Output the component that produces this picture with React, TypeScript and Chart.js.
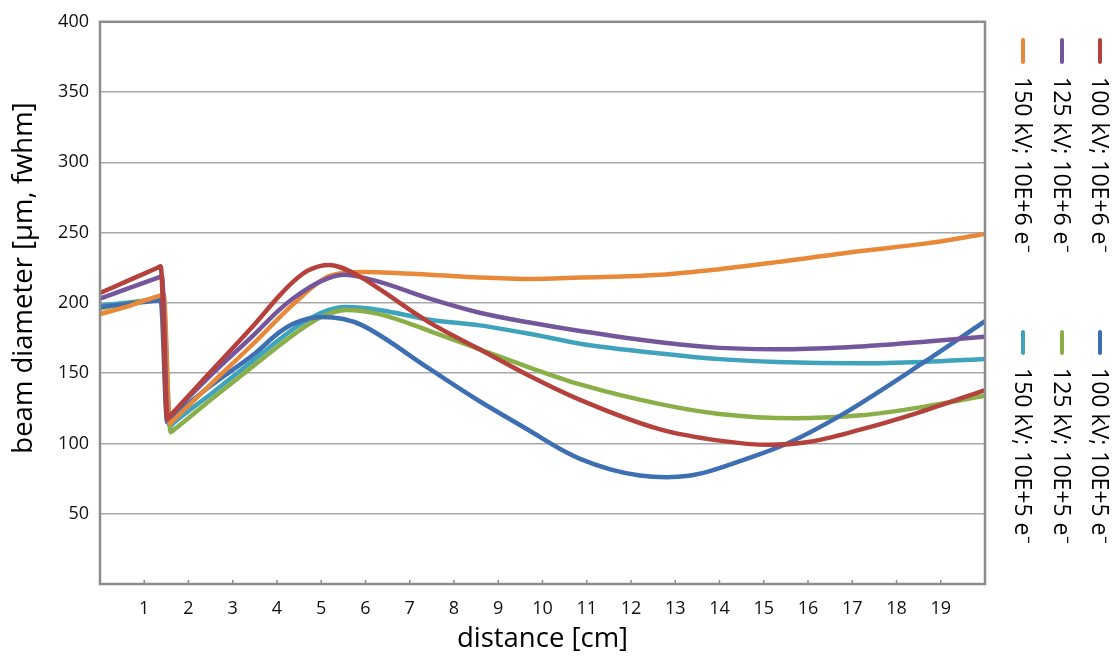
import { useEffect, useRef } from "react";
import { Chart, registerables } from "chart.js";

Chart.register(...registerables);

const FONT = "'Open Sans', sans-serif";

const LABELS = [
  "100 kV; 10E+6 e\u207B",
  "125 kV; 10E+6 e\u207B",
  "150 kV; 10E+6 e\u207B",
  "100 kV; 10E+5 e\u207B",
  "125 kV; 10E+5 e\u207B",
  "150 kV; 10E+5 e\u207B",
];
const COLORS = ["#B5413C", "#74569C", "#E8893A", "#3F6FB3", "#8AAF48", "#3FA3BD"];

// distance [cm] / beam diameter [µm]
const RED_X = [0, 0.7, 1.3, 1.37, 1.52, 1.6, 2.5, 3.5, 4.05, 4.4, 4.7, 5.18, 5.86, 6.31, 7.45, 8.58, 9.71, 10.85, 12.66, 14, 15.1, 16, 17.2, 18.5, 20];
const RED_Y = [207, 216.7, 225, 226, 117, 120, 151, 185, 205, 216, 223, 227, 219, 210, 186, 167, 148, 131, 110, 102, 99, 101, 110, 122, 138];

const PURPLE_X = [0, 0.7, 1.33, 1.4, 1.53, 1.61, 2.5, 3.5, 4.05, 4.4, 5.0, 5.5, 6.31, 7.45, 8.58, 9.71, 10.85, 12.66, 14, 15.5, 17.2, 18.5, 20];
const PURPLE_Y = [203, 211, 218.2, 219, 118, 120.5, 148.5, 178, 195, 204, 215.5, 220, 215, 203, 193, 186, 180, 172, 168, 167, 169, 172, 176];

const ORANGE_X = [0, 0.7, 1.37, 1.44, 1.58, 1.66, 2.5, 3.5, 4.4, 5.18, 5.93, 7.45, 8.58, 9.71, 10.85, 12.66, 14, 15.3, 17.2, 18.6, 20];
const ORANGE_Y = [192, 198.3, 205.4, 206, 114, 116.5, 142, 172, 200, 219, 222, 220, 218, 217, 218, 220, 224, 229, 237, 242, 249];

const BLUE_X = [0, 0.7, 1.3, 1.37, 1.52, 1.6, 2.5, 3.5, 4.05, 4.4, 5.0, 5.5, 5.93, 7.45, 8.58, 9.71, 10.4, 10.85, 11.53, 12.2, 12.8, 13.3, 13.8, 14.56, 15.53, 16.74, 18.63, 20];
const BLUE_Y = [197, 199.6, 201.7, 202, 115, 117.5, 141, 164, 179, 185.6, 190, 188.5, 184, 153, 130, 109, 96, 89, 81.6, 77.2, 76, 77, 80.5, 88.5, 100, 120, 158, 187];

const GREEN_X = [0, 0.7, 1.35, 1.42, 1.6, 1.68, 2.5, 3.5, 4.4, 5.0, 5.56, 6.31, 7.45, 8.58, 9.71, 10.85, 12.66, 14, 15.68, 17.2, 18.6, 20];
const GREEN_Y = [196, 200, 203.6, 204, 108, 110, 131, 156, 178, 190, 195, 192, 180, 167, 154, 142, 128, 121, 118, 120, 126, 134];

const TEAL_X = [0, 0.7, 1.35, 1.42, 1.58, 1.66, 2.5, 3.5, 4.4, 5.0, 5.56, 6.31, 7.45, 8.58, 9.71, 10.85, 12.66, 14, 15.3, 17.2, 18.6, 20];
const TEAL_Y = [198, 200.5, 202.7, 203, 112, 114.5, 135, 160, 182, 193, 197, 195, 188, 184, 178, 171, 164, 160, 158, 157, 158, 160];

const SERIES_X = [RED_X, PURPLE_X, ORANGE_X, BLUE_X, GREEN_X, TEAL_X];
const SERIES_Y = [RED_Y, PURPLE_Y, ORANGE_Y, BLUE_Y, GREEN_Y, TEAL_Y];

const X_TITLE = "distance [cm]";
const Y_TITLE = "beam diameter [\u00B5m, fwhm]";

const decor = {
  id: "decor",
  afterDraw(chart: any) {
    const { ctx, chartArea: a, scales } = chart;
    ctx.save();
    // x tick marks (inside)
    ctx.strokeStyle = "#8a8a8a";
    ctx.lineWidth = 1.5;
    for (let v = 1; v <= 19; v++) {
      const px = scales.x.getPixelForValue(v);
      ctx.beginPath();
      ctx.moveTo(px, a.bottom);
      ctx.lineTo(px, a.bottom - 4);
      ctx.stroke();
    }
    // plot border
    ctx.strokeStyle = "#8c8c8c";
    ctx.lineWidth = 2.5;
    ctx.strokeRect(a.left, a.top, a.right - a.left, a.bottom - a.top);

    // y title
    ctx.fillStyle = "#000";
    ctx.font = `27.5px ${FONT}`;
    ctx.textAlign = "center";
    ctx.textBaseline = "middle";
    ctx.translate(24, 278);
    ctx.rotate(-Math.PI / 2);
    ctx.fillText(Y_TITLE, 0, 0);
    ctx.restore();

    // legend (rotated 90° clockwise)
    const cols = [1100, 1062, 1023];
    const groups = [
      { mark: [40, 62], text: 77 },
      { mark: [332, 353], text: 368 },
    ];
    chart.data.datasets.forEach((ds: any, i: number) => {
      const g = groups[Math.floor(i / 3)];
      const cx = cols[i % 3];
      ctx.save();
      ctx.strokeStyle = ds.borderColor;
      ctx.lineWidth = 4;
      ctx.lineCap = "round";
      ctx.beginPath();
      ctx.moveTo(cx, g.mark[0]);
      ctx.lineTo(cx, g.mark[1]);
      ctx.stroke();
      ctx.translate(cx, g.text);
      ctx.rotate(Math.PI / 2);
      ctx.fillStyle = "#000";
      ctx.font = `23px ${FONT}`;
      ctx.textAlign = "left";
      ctx.textBaseline = "middle";
      ctx.fillText(ds.label, 0, 1);
      ctx.restore();
    });
  },
};

export default function App() {
  const ref = useRef<HTMLCanvasElement>(null);
  useEffect(() => {
    const datasets = LABELS.map((label, i) => ({
      label,
      data: SERIES_X[i].map((x, j) => ({ x, y: SERIES_Y[i][j] })),
      borderColor: COLORS[i],
      backgroundColor: COLORS[i],
      borderWidth: 4.5,
      pointRadius: 0,
      fill: false,
      cubicInterpolationMode: "monotone" as const,
    }));
    const chart = new Chart(ref.current!, {
      type: "line",
      data: { datasets },
      options: {
        animation: false,
        responsive: true,
        maintainAspectRatio: false,
        layout: { padding: { top: 17, right: 135, left: 0, bottom: 0 } },
        plugins: { legend: { display: false }, tooltip: { enabled: false } },
        scales: {
          x: {
            type: "linear",
            min: 0,
            max: 20,
            afterFit: (s: any) => {
              s.height = 72;
            },
            ticks: {
              stepSize: 1,
              autoSkip: false,
              maxRotation: 0,
              padding: 6,
              color: "#111",
              font: { family: FONT, size: 18 },
              callback: (v: any) => (v >= 1 && v <= 19 ? String(v) : ""),
            },
            grid: { display: false },
            border: { display: false },
            title: {
              display: true,
              text: X_TITLE,
              color: "#000",
              font: { family: FONT, size: 27.5 },
              padding: { top: 0, bottom: 0 },
            },
          },
          y: {
            min: 0,
            max: 400,
            afterFit: (s: any) => {
              s.width = 100;
            },
            ticks: {
              stepSize: 50,
              padding: 11,
              color: "#111",
              font: { family: FONT, size: 18 },
              callback: (v: any) => (v === 0 ? "" : String(v)),
            },
            grid: { color: "#a8a8a8", lineWidth: 1.5, drawTicks: false },
            border: { display: false },
          },
        },
      },
      plugins: [decor],
    });
    return () => chart.destroy();
  }, []);
  return (
    <div style={{ position: "fixed", left: 0, top: 0, width: 1120, height: 656, background: "#fff" }}>
      <canvas ref={ref} />
    </div>
  );
}
